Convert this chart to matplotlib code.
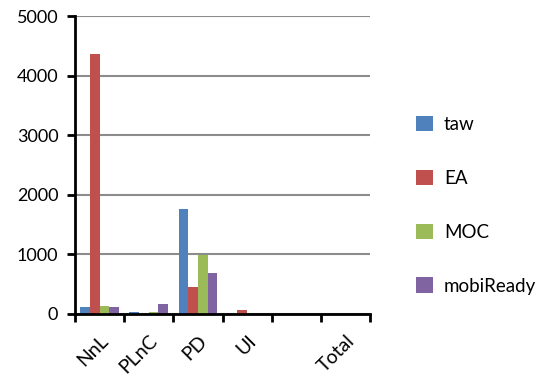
import numpy as np
import matplotlib
matplotlib.use("Agg")
import matplotlib.pyplot as plt

plt.rcParams['font.family'] = ['Lato', 'DejaVu Sans']

categories = ["NnL", "PLnC", "PD", "UI", "", "Total"]
series_names = ["taw", "EA", "MOC", "mobiReady"]
taw = [120, 35, 1760, 0, 0, 0]
ea = [4360, 0, 450, 70, 0, 0]
moc = [125, 30, 990, 0, 0, 0]
mobiready = [115, 160, 680, 0, 0, 0]
colors = ["#4F81BD", "#C0504D", "#9BBB59", "#8064A2"]

fig = plt.figure(figsize=(5.54, 3.81), dpi=100)
ax = fig.add_axes([0.1354, 0.176, 0.5326, 0.782])

x = np.arange(len(categories))
width = 0.196
for i, (vals, name) in enumerate(zip([taw, ea, moc, mobiready], series_names)):
    ax.bar(x + (i - 1.5) * width, vals, width, color=colors[i], label=name, zorder=3)

ax.set_xlim(-0.5, len(categories) - 0.5)
ax.set_ylim(0, 5000)
ax.set_yticks(range(0, 5001, 1000))
ax.yaxis.grid(True, color="#8c8c8c", linewidth=1.5, zorder=0)

# category boundaries carry the tick marks, labels sit at the centres
ax.set_xticks(np.arange(-0.5, len(categories)), minor=True)
ax.set_xticks(x)
ax.set_xticklabels(categories, rotation=45, ha="right", rotation_mode="anchor", fontsize=14)
ax.tick_params(axis="x", which="major", length=0, pad=13)
ax.tick_params(axis="x", which="minor", length=6, width=2, direction="out")
ax.tick_params(axis="y", length=6, width=2, direction="out", labelsize=13, pad=6)

for side in ["top", "right"]:
    ax.spines[side].set_visible(False)
for side in ["left", "bottom"]:
    ax.spines[side].set_linewidth(2)
    ax.spines[side].set_zorder(4)

fig.legend(loc="upper left", bbox_to_anchor=(0.72, 0.74), frameon=False,
           handlelength=0.9, handleheight=0.9, handletextpad=0.6,
           labelspacing=1.95, fontsize=13.5)

fig.savefig("out.png", dpi=100)
